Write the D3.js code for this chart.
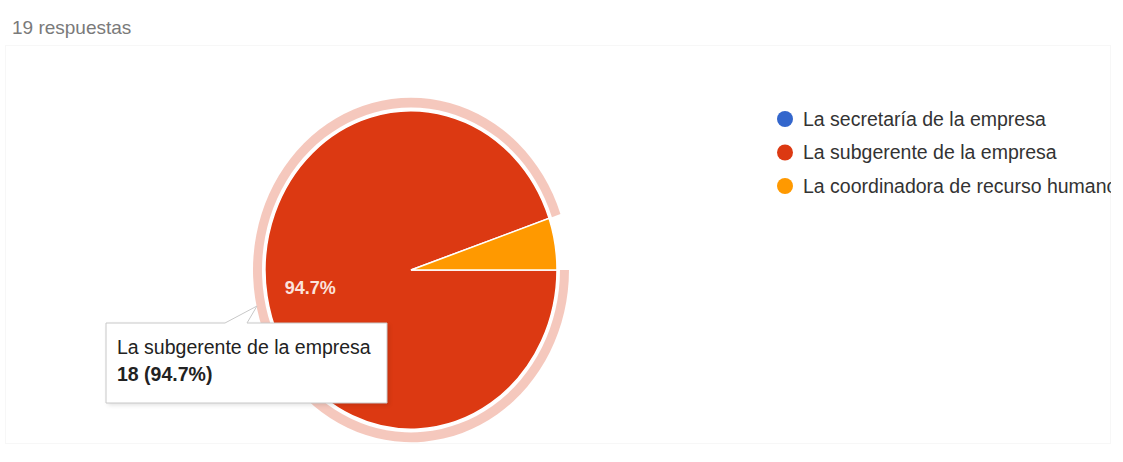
<!DOCTYPE html>
<html>
<head>
<meta charset="utf-8">
<script src="https://cdn.jsdelivr.net/npm/d3@7"></script>
<style>
  html, body { margin: 0; padding: 0; background: #fff; }
  svg { display: block; font-family: "Liberation Sans", Arial, sans-serif; }
</style>
</head>
<body>
<svg id="chart" width="1123" height="462"></svg>
<script>
// Survey answers: who is responsible
const categories = [
  "La secretaría de la empresa",
  "La subgerente de la empresa",
  "La coordinadora de recurso humano"
];
const counts = [0, 18, 1];
const colors = ["#3366cc", "#dc3912", "#ff9900"];
const responsesLabel = "19 respuestas";
const highlighted = 1; // slice shown with its tooltip

const total = d3.sum(counts);
const pctFmt = d3.format(".1%");

const svg = d3.select("#chart");

// light card frame
svg.append("rect")
  .attr("x", 5.5).attr("y", 45.5)
  .attr("width", 1105).attr("height", 398)
  .attr("fill", "none")
  .attr("stroke", "#f7f7f7");

// header
svg.append("text")
  .attr("x", 12).attr("y", 34)
  .attr("font-size", 19)
  .attr("fill", "#7a7a7a")
  .text(responsesLabel);

// pie
const cx = 411, cy = 270, r = 146;
const pie = d3.pie().sort(null).value(d => d)
  .startAngle(Math.PI / 2).endAngle(Math.PI / 2 + 2 * Math.PI);
const arcs = pie(counts);
const arc = d3.arc().innerRadius(0).outerRadius(r);

const g = svg.append("g")
  .attr("transform", `translate(${cx},${cy}) scale(1,1.09)`);

// highlight ring around the selected slice
const hi = arcs[highlighted];
g.append("path")
  .attr("d", d3.arc().innerRadius(r + 3).outerRadius(r + 12)
    .startAngle(hi.startAngle).endAngle(hi.endAngle)())
  .attr("fill", colors[highlighted])
  .attr("fill-opacity", 0.28);

g.selectAll("path.slice")
  .data(arcs.filter(d => d.value > 0))
  .join("path")
  .attr("class", "slice")
  .attr("d", arc)
  .attr("fill", d => colors[d.index])
  .attr("stroke", "#fff")
  .attr("stroke-width", 1.5)
  .attr("vector-effect", "non-scaling-stroke");

// percentage label inside the big slice
const labelArc = d3.arc().innerRadius(r * 0.7).outerRadius(r * 0.7);
const [lx, ly] = labelArc.centroid(hi);
svg.append("text")
  .attr("x", cx + lx)
  .attr("y", cy + ly * 1.09 + 6)
  .attr("text-anchor", "middle")
  .attr("font-size", 18)
  .attr("font-weight", "bold")
  .attr("fill", "#fbe3dc")
  .text(pctFmt(counts[highlighted] / total));

// legend (last entry runs past the card edge and is cut off)
const legend = svg.append("g");
const clip = svg.append("defs").append("clipPath").attr("id", "legendClip");
clip.append("rect").attr("x", 770).attr("y", 90).attr("width", 341).attr("height", 120);
const legendY = d3.scalePoint().domain(d3.range(categories.length)).range([119, 186]);
const rows = legend.attr("clip-path", "url(#legendClip)")
  .selectAll("g").data(categories).join("g")
  .attr("transform", (d, i) => `translate(785,${legendY(i)})`);
rows.append("circle").attr("r", 8).attr("fill", (d, i) => colors[i]);
rows.append("text")
  .attr("x", 18).attr("y", 6.5)
  .attr("font-size", 19.5)
  .attr("fill", "#333")
  .text(d => d);

// tooltip
const tip = svg.append("g");
const bx = 106, by = 323, bw = 281, bh = 80;
tip.append("rect")
  .attr("x", bx + 2).attr("y", by + 2).attr("width", bw).attr("height", bh)
  .attr("fill", "#000").attr("fill-opacity", 0.12)
  .style("filter", "blur(2px)");
tip.append("path")
  .attr("d", `M${bx},${by} H225 L257,306 L247,${by} H${bx + bw} V${by + bh} H${bx} Z`)
  .attr("fill", "#fff")
  .attr("stroke", "#c8c8c8")
  .attr("stroke-width", 1);
tip.append("text")
  .attr("x", 117).attr("y", 354)
  .attr("font-size", 19.5)
  .attr("fill", "#222")
  .text(categories[highlighted]);
tip.append("text")
  .attr("x", 117).attr("y", 381)
  .attr("font-size", 19.5)
  .attr("font-weight", "bold")
  .attr("fill", "#222")
  .text(`${counts[highlighted]} (${pctFmt(counts[highlighted] / total)})`);
</script>
</body>
</html>
